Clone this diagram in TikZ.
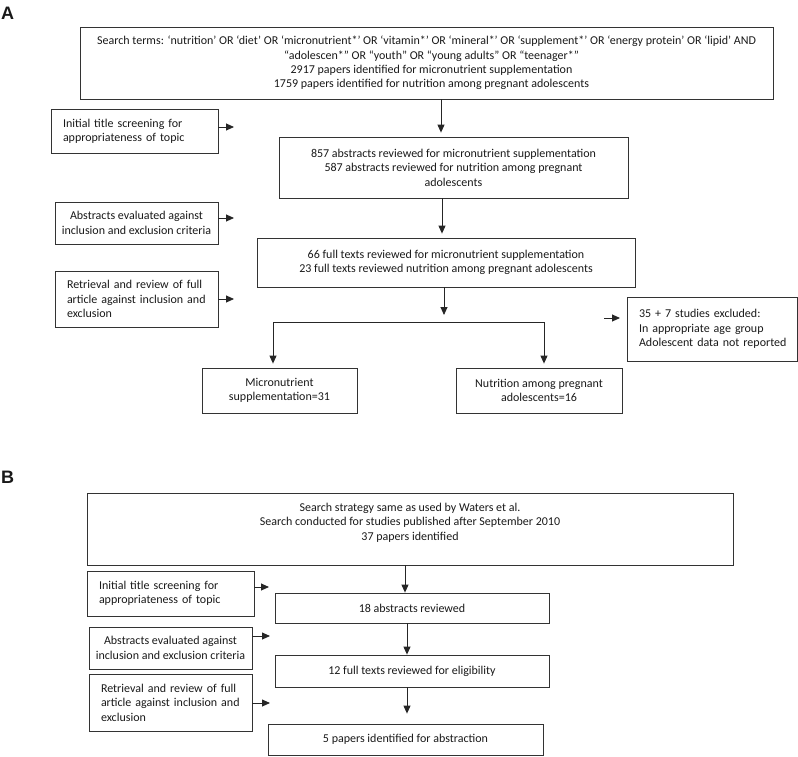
\documentclass[tikz,border=0pt]{standalone}
\usepackage{fontspec}
\setmainfont{Carlito}
\newfontfamily\lblfont{Liberation Sans}
\usetikzlibrary{arrows.meta}
\begin{document}
\begin{tikzpicture}[x=1pt,y=-1pt,
  box/.style={draw=black!80, line width=0.8pt, inner sep=0pt, rectangle,
    font=\fontsize{12}{14.4}\selectfont, text=black!90, align=center},
  lbox/.style={box, align=left},
  lbl/.style={font=\lblfont\bfseries\fontsize{18}{18}\selectfont, anchor=base west, inner sep=0pt, text=black!90},
  arr/.style={draw=black!85, line width=0.9pt, -{Triangle[length=8pt,width=7pt]}},
  plain/.style={draw=black!85, line width=0.9pt}]
\useasboundingbox (0,0) rectangle (798,756);

% ---------- Panel A ----------
\node[lbl] (labA) at (1,19) {A};

\node[box, minimum width=693pt, minimum height=72pt] (topA) at (426.5,63)
 {Search terms: ‘nutrition’ OR ‘diet’ OR ‘micronutrient*’ OR ‘vitamin*’ OR ‘mineral*’ OR ‘supplement*’ OR ‘energy protein’ OR ‘lipid’ AND\\
  \kern10pt“adolescen*” OR “youth” OR “young adults” OR “teenager*”\\
  \kern10pt2917 papers identified for micronutrient supplementation\\
  \kern10pt1759 papers identified for nutrition among pregnant adolescents};

\node[box, minimum width=349pt, minimum height=61pt] (boxA2) at (453.5,167.5)
 {857 abstracts reviewed for micronutrient supplementation\\
  587 abstracts reviewed for nutrition among pregnant\\
  adolescents};

\node[box, minimum width=378pt, minimum height=49pt] (boxA3) at (446,262.5)
 {66 full texts reviewed for micronutrient supplementation\\
  23 full texts reviewed nutrition among pregnant adolescents};

\node[lbox, minimum width=167pt, minimum height=44pt, text width=143pt] (lA1) at (134.5,131)
 {\mbox{Initial title screening for}\\\mbox{appropriateness of topic}};
\node[box, minimum width=163pt, minimum height=42pt] (lA2) at (136.5,223)
 {Abstracts evaluated against\\inclusion and exclusion criteria};
\node[lbox, minimum width=163pt, minimum height=56pt, text width=139pt] (lA3) at (136.5,299)
 {\mbox{Retrieval and review of full}\\\mbox{article against inclusion and}\\\mbox{exclusion}};

\node[box, minimum width=155pt, minimum height=45pt] (micro) at (279.5,390.5)
 {Micronutrient\\supplementation=31};
\node[box, minimum width=166pt, minimum height=45pt] (nutr) at (539,390.5)
 {Nutrition among pregnant\\adolescents=16};
\node[lbox, minimum width=170pt, minimum height=64pt, text width=146pt] (excl) at (712,329)
 {\mbox{35 + 7 studies excluded:}\\\mbox{In appropriate age group}\\\mbox{Adolescent data not reported}};

\coordinate (xa1) at (441,0);
\coordinate (xa2) at (442,0);
\coordinate (split) at (444,315);
\coordinate (hl) at (273,322);
\coordinate (hr) at (544,322);
\coordinate (a1) at (234,127);
\coordinate (a2) at (234,218);
\coordinate (a3) at (234,299);
\coordinate (e0) at (604,318);
\coordinate (e1) at (620,318);

\draw[arr, shorten >=4pt] (xa1 |- topA.south) -- (xa1 |- boxA2.north);
\draw[arr, shorten >=4pt] (xa2 |- boxA2.south) -- (xa2 |- boxA3.north);
\draw[arr] (split |- boxA3.south) -- (split);
\draw[plain] (hl) -- (hr);
\draw[arr, shorten >=4pt] (hl) -- (hl |- micro.north);
\draw[arr, shorten >=4pt] (hr) -- (hr |- nutr.north);
\draw[arr] (a1 -| lA1.east) -- (a1);
\draw[arr] (a2 -| lA2.east) -- (a2);
\draw[arr] (a3 -| lA3.east) -- (a3);
\draw[arr] (e0) -- (e1);

% ---------- Panel B ----------
\node[lbl] (labB) at (1,483) {B};

\node[box, minimum width=646pt, minimum height=72pt] (topB) at (410,529)
 {Search strategy same as used by Waters et al.\\
  Search conducted for studies published after September 2010\\
  37 papers identified\\\mbox{}};

\node[lbox, minimum width=167pt, minimum height=45pt, text width=143pt] (lB1) at (170.5,593.5)
 {\mbox{Initial title screening for}\\\mbox{appropriateness of topic}};
\node[box, minimum width=163pt, minimum height=42pt] (lB2) at (170.5,648)
 {Abstracts evaluated against\\inclusion and exclusion criteria};
\node[lbox, minimum width=163pt, minimum height=57pt, text width=139pt] (lB3) at (170.5,702.5)
 {\mbox{Retrieval and review of full}\\\mbox{article against inclusion and}\\\mbox{exclusion}};

\node[box, minimum width=274pt, minimum height=30pt] (b18) at (412,608) {18 abstracts reviewed};
\node[box, minimum width=274pt, minimum height=32pt] (b12) at (412,671) {12 full texts reviewed for eligibility};
\node[box, minimum width=275pt, minimum height=31pt] (b5) at (405.5,739.5) {5 papers identified for abstraction};

\coordinate (xb1) at (405,0);
\coordinate (xb2) at (407,0);
\coordinate (c1) at (269,587);
\coordinate (c2) at (270,636);
\coordinate (c3) at (270,703);

\draw[arr] (xb1 |- topB.south) -- (xb1 |- b18.north);
\draw[arr] (xb2 |- b18.south) -- (xb2 |- b12.north);
\draw[arr, shorten >=10pt] (xb2 |- b12.south) -- (xb2 |- b5.north);
\draw[arr] (c1 -| lB1.east) -- (c1);
\draw[arr] (c2 -| lB2.east) -- (c2);
\draw[arr] (c3 -| lB3.east) -- (c3);
\end{tikzpicture}
\end{document}
